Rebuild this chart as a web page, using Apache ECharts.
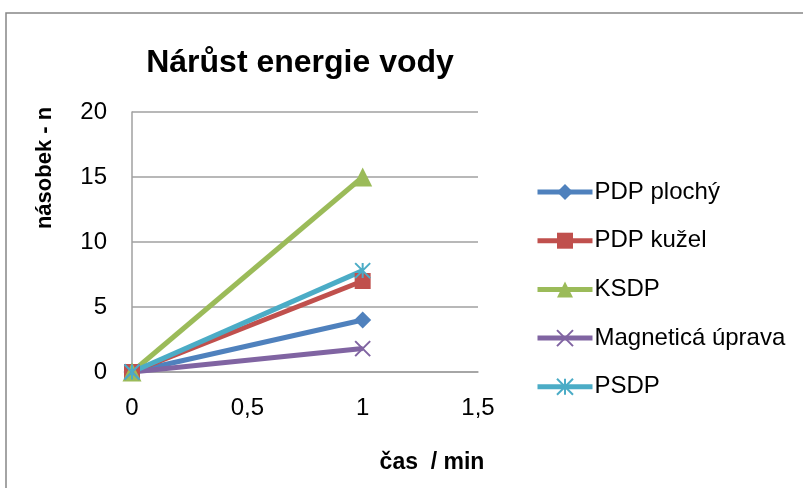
<!DOCTYPE html>
<html>
<head>
<meta charset="utf-8">
<script src="https://cdn.jsdelivr.net/npm/echarts@6/dist/echarts.min.js"></script>
<style>
  html, body { margin: 0; padding: 0; background: #fff; }
  #chart { width: 803px; height: 488px; }
</style>
</head>
<body>
<div id="chart"></div>
<script>
// Time points (min) and energy multiples for each water treatment
const times = [0, 1];
const pdpPlochy = [0, 4];
const pdpKuzel = [0, 7];
const ksdp = [0, 15];
const magneticka = [0, 1.8];
const psdp = [0, 7.8];

const seriesNames = ['PDP plochý', 'PDP kužel', 'KSDP', 'Magneticá úprava', 'PSDP'];
const seriesValues = [pdpPlochy, pdpKuzel, ksdp, magneticka, psdp];
const colors = ['#4F81BD', '#C0504D', '#9BBB59', '#8064A2', '#4BACC6'];

const FONT = 'Liberation Sans, Arial, sans-serif';

// Cross and asterisk markers as stroked paths
const crossPath = 'path://M0,0L10,10M10,0L0,10';
const starPath = 'path://M0,0L10,10M10,0L0,10M5,0L5,10';
const symbols = [
  { symbol: 'diamond', size: 17, stroke: false },
  { symbol: 'rect', size: 16, stroke: false },
  { symbol: 'triangle', size: 19, stroke: false },
  { symbol: crossPath, size: 15, stroke: true },
  { symbol: starPath, size: 15, stroke: true }
];

const series = seriesNames.map((name, i) => ({
  name: name,
  type: 'line',
  data: times.map((t, k) => [t, seriesValues[i][k]]),
  symbol: symbols[i].symbol,
  symbolSize: symbols[i].size,
  showAllSymbol: true,
  lineStyle: { color: colors[i], width: 5 },
  itemStyle: symbols[i].stroke
    ? { color: 'rgba(0,0,0,0)', borderColor: colors[i], borderWidth: 2 }
    : { color: colors[i], borderWidth: 0 },
  emphasis: { disabled: true },
  animation: false
}));

const chart = echarts.init(document.getElementById('chart'));
chart.setOption({
  backgroundColor: '#fff',
  animation: false,
  graphic: [
    {
      type: 'rect',
      shape: { x: 6, y: 13, width: 820, height: 500 },
      style: { fill: 'none', stroke: '#868686', lineWidth: 1.5 },
      silent: true
    },
    {
      type: 'text',
      x: 45, y: 168,
      rotation: Math.PI / 2,
      style: {
        text: 'násobek - n',
        fontFamily: FONT, fontSize: 22, fontWeight: 'bold', fill: '#000',
        align: 'center', verticalAlign: 'middle'
      },
      silent: true
    },
    {
      type: 'text',
      x: 432, y: 463,
      style: {
        text: 'čas  / min',
        fontFamily: FONT, fontSize: 23, fontWeight: 'bold', fill: '#000',
        align: 'center', verticalAlign: 'middle'
      },
      silent: true
    }
  ],
  title: {
    text: 'Nárůst energie vody',
    left: 295,
    top: 42,
    textAlign: 'center',
    textStyle: { fontFamily: FONT, fontSize: 32, fontWeight: 'bold', color: '#000' }
  },
  grid: { left: 132, top: 112, width: 346, height: 260, containLabel: false },
  xAxis: {
    type: 'value',
    min: 0, max: 1.5, interval: 0.5,
    axisLine: { show: true, lineStyle: { color: '#A0A0A0', width: 1.5 } },
    axisTick: { show: false },
    splitLine: { show: false },
    axisLabel: {
      fontFamily: FONT, fontSize: 24, color: '#000', margin: 24,
      formatter: v => String(v).replace('.', ',')
    }
  },
  yAxis: {
    type: 'value',
    min: 0, max: 20, interval: 5,
    axisLine: { show: true, lineStyle: { color: '#A0A0A0', width: 1.5 } },
    axisTick: { show: false },
    splitLine: { show: true, lineStyle: { color: '#A0A0A0', width: 1.5 } },
    axisLabel: { fontFamily: FONT, fontSize: 24, color: '#000', margin: 25 }
  },
  legend: {
    orient: 'vertical',
    left: 530,
    top: 175,
    itemGap: 24.7,
    itemWidth: 55,
    itemHeight: 20,
    lineStyle: { width: 5 },
    textStyle: { fontFamily: FONT, fontSize: 24, color: '#000', padding: [0, 0, 0, -3] },
    data: seriesNames
  },
  series: series
});
</script>
</body>
</html>
